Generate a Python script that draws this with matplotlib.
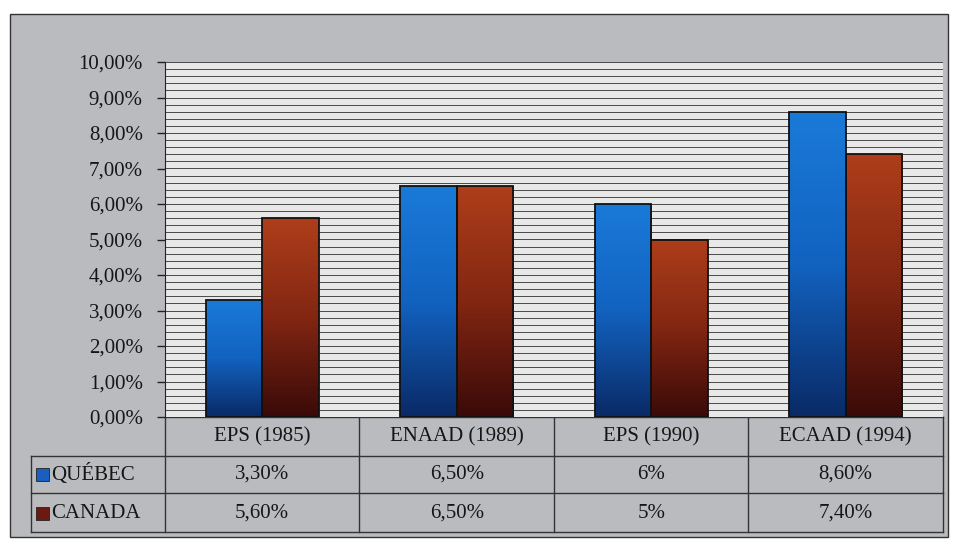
import matplotlib.pyplot as plt
import numpy as np
from matplotlib.patches import Rectangle
from matplotlib.colors import LinearSegmentedColormap
import matplotlib.transforms as mtransforms

# data
categories = ["EPS (1985)", "ENAAD (1989)", "EPS (1990)", "ECAAD (1994)"]
series_names = ["QUÉBEC", "CANADA"]
quebec = [3.3, 6.5, 6.0, 8.6]
canada = [5.6, 6.5, 5.0, 7.4]
quebec_txt = ["3,30%", "6,50%", "6%", "8,60%"]
canada_txt = ["5,60%", "6,50%", "5%", "7,40%"]
yticks = [0, 1, 2, 3, 4, 5, 6, 7, 8, 9, 10]
ytick_labels = ["%d,00%%" % v for v in yticks]

W, H = 954, 551
plt.rcParams['font.family'] = ['Liberation Serif', 'DejaVu Serif']
fig = plt.figure(figsize=(W / 100, H / 100), dpi=100)
fig.patch.set_facecolor('white')
txt_col = '#161616'
fs = 15


def fy(py):
    return 1 - py / H


# gray chart area
fig.patches.append(Rectangle((10 / W, fy(537)), 938 / W, 523 / H, transform=fig.transFigure,
                             facecolor='#b9bbbe', edgecolor='#333333', lw=1.0, zorder=-5))

ax = fig.add_axes([165 / W, fy(417), (943 - 165) / W, (417 - 62) / H])
ax.set_zorder(2)
ax.set_facecolor('#e8e8e8')
ax.set_xlim(-0.5, 3.5)
ax.set_ylim(0, 10)

# dense horizontal gridlines
for g in np.arange(0.2, 10.01, 0.2):
    ax.axhline(g, color='#4a4a4a', lw=0.7, zorder=1)

blue_cm = LinearSegmentedColormap.from_list('b', ['#0a2a66', '#1262c0', '#1a7ad8'])
red_cm = LinearSegmentedColormap.from_list('r', ['#3a0a08', '#822612', '#ae3e1a'])
bw = 0.29
grad = np.linspace(0, 1, 256).reshape(-1, 1)
for vals, off, cm in [(quebec, -bw / 2, blue_cm), (canada, bw / 2, red_cm)]:
    bars = ax.bar(np.arange(len(categories)) + off, vals, width=bw, facecolor='none',
                  edgecolor='#111111', lw=1.3, zorder=3)
    for b in bars:
        x0, w, h = b.get_x(), b.get_width(), b.get_height()
        im = ax.imshow(grad, extent=[x0, x0 + w, 0, h], origin='lower', cmap=cm,
                       aspect='auto', zorder=2)
        im.set_clip_path(b)
ax.set_xlim(-0.5, 3.5)
ax.set_ylim(0, 10)

ax.set_xticks([])
ax.set_yticks(yticks)
ax.set_yticklabels(ytick_labels, fontsize=fs, color=txt_col)
ax.tick_params(axis='y', length=6, width=1, pad=10, color='#222222')
for s in ['top', 'right', 'bottom']:
    ax.spines[s].set_visible(False)
ax.spines['left'].set_color('#222222')

# data table
tr = mtransforms.blended_transform_factory(ax.transData, fig.transFigure)
left = -0.5 - 134 / 194.5
rows = [417, 456, 493, 532]
lc = '#333333'
for i, r in enumerate(rows):
    x_start = -0.5 if i == 0 else left
    fig.add_artist(plt.Line2D([x_start, 3.5], [fy(r), fy(r)], transform=tr, color=lc, lw=1))
for xv in [-0.5, 0.5, 1.5, 2.5, 3.5]:
    fig.add_artist(plt.Line2D([xv, xv], [fy(417), fy(532)], transform=tr, color=lc, lw=1))
fig.add_artist(plt.Line2D([left, left], [fy(456), fy(532)], transform=tr, color=lc, lw=1))

for i, c in enumerate(categories):
    fig.text(i, fy(436.5), c, transform=tr, ha='center', va='center', fontsize=fs, color=txt_col)
    fig.text(i, fy(474.5), quebec_txt[i], transform=tr, ha='center', va='center', fontsize=fs, color=txt_col)
    fig.text(i, fy(513), canada_txt[i], transform=tr, ha='center', va='center', fontsize=fs, color=txt_col)

for r, name, col in [(474.5, series_names[0], '#1a5fc0'), (513, series_names[1], '#6a1a10')]:
    fig.patches.append(Rectangle((36 / W, fy(r + 6.5)), 13 / W, 13 / H, transform=fig.transFigure,
                                 facecolor=col, edgecolor='#222222', lw=0.6))
    fig.text(51 / W, fy(r), name, ha='left', va='center', fontsize=fs, color=txt_col)

fig.savefig('out.png', dpi=100)
